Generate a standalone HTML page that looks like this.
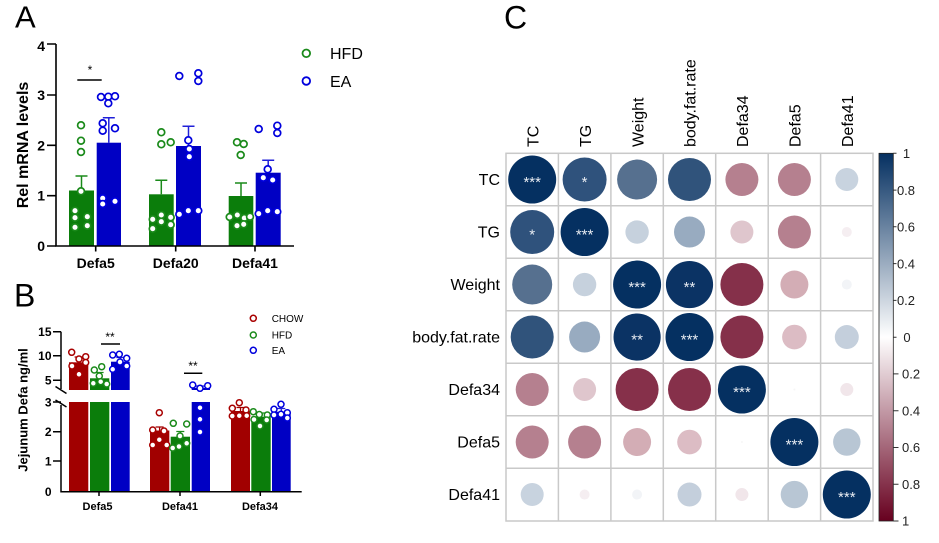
<!DOCTYPE html>
<html><head><meta charset="utf-8"><style>
html,body{margin:0;padding:0;background:#fff;}
svg{display:block;font-family:"Liberation Sans",Arial,sans-serif;}
</style></head><body>
<svg width="939" height="543" viewBox="0 0 939 543" xmlns="http://www.w3.org/2000/svg">
<defs>
<linearGradient id="cb" x1="0" y1="0" x2="0" y2="1">
<stop offset="0" stop-color="#053061"/><stop offset="0.5" stop-color="#ffffff"/><stop offset="1" stop-color="#67001f"/>
</linearGradient>
</defs>
<rect width="939" height="543" fill="#fff"/>

<!-- Panel letters -->
<text x="15" y="27.3" font-size="31">A</text>
<text x="14" y="306.7" font-size="32">B</text>
<text x="504" y="28.3" font-size="32">C</text>

<!-- ================= Panel A ================= -->
<g fill="#0b7d0b">
<rect x="69" y="190.5" width="25" height="55.5"/>
<rect x="149" y="194.3" width="24.7" height="51.7"/>
<rect x="228.7" y="196" width="24.6" height="50"/>
</g>
<g fill="#0000c4">
<rect x="96.7" y="142.7" width="24.3" height="103.3"/>
<rect x="176" y="146" width="25" height="100"/>
<rect x="255.7" y="172.7" width="25" height="73.3"/>
</g>
<g stroke="#1a8a1a" stroke-width="1.5" fill="none">
<path d="M81.5 190.5V176M75.5 176H87.5"/>
<path d="M161.3 194.3V180.3M155.3 180.3H167.3"/>
<path d="M241 196V183M235 183H247"/>
</g>
<g stroke="#2020d8" stroke-width="1.5" fill="none">
<path d="M108.8 142.7V117.7M102.8 117.7H114.8"/>
<path d="M188.5 146V126.3M182.5 126.3H194.5"/>
<path d="M268.2 172.7V160.3M262.2 160.3H274.2"/>
</g>
<!-- A axes -->
<g stroke="#000" stroke-width="1.6" fill="none">
<path d="M56 44V246H294"/>
<path d="M47 44H56M47 95H56M47 145.3H56M47 195.7H56M47 246H56"/>
<path d="M95.7 246V251.5M175.7 246V251.5M255 246V251.5"/>
<path d="M77.3 80H101.7"/>
</g>
<text x="90" y="74" font-size="12" text-anchor="middle">*</text>
<g font-size="14" font-weight="bold" text-anchor="end">
<text x="45" y="51">4</text><text x="45" y="100">3</text><text x="45" y="150.3">2</text><text x="45" y="200.7">1</text><text x="45" y="251">0</text>
</g>
<g font-size="14" font-weight="bold" text-anchor="middle">
<text x="95.7" y="268">Defa5</text><text x="175.7" y="268">Defa20</text><text x="255" y="268">Defa41</text>
</g>
<text transform="translate(28,145) rotate(-90)" font-size="16" font-weight="bold" text-anchor="middle">Rel mRNA levels</text>
<!-- A points -->
<g fill="#fff" stroke="#1a8a1a" stroke-width="1.7">
<circle cx="81" cy="125.3" r="3.4"/><circle cx="81" cy="140.7" r="3.4"/><circle cx="81" cy="152" r="3.4"/><circle cx="81" cy="191.3" r="3.4"/><circle cx="75" cy="210.7" r="3.4"/><circle cx="75" cy="217.7" r="3.4"/><circle cx="87.3" cy="216.7" r="3.4"/><circle cx="75" cy="227.3" r="3.4"/><circle cx="87.3" cy="225.7" r="3.4"/>
<circle cx="161.3" cy="132.3" r="3.4"/><circle cx="161.3" cy="144.3" r="3.4"/><circle cx="170.7" cy="142.3" r="3.4"/><circle cx="152.7" cy="219.3" r="3.4"/><circle cx="161.3" cy="215" r="3.4"/><circle cx="170.7" cy="217.3" r="3.4"/><circle cx="161.3" cy="221.7" r="3.4"/><circle cx="152.7" cy="228.7" r="3.4"/><circle cx="170.7" cy="224.7" r="3.4"/>
<circle cx="237" cy="142.3" r="3.4"/><circle cx="243.7" cy="144" r="3.4"/><circle cx="240.7" cy="155" r="3.4"/><circle cx="229.7" cy="217" r="3.4"/><circle cx="237.3" cy="215" r="3.4"/><circle cx="244.3" cy="218" r="3.4"/><circle cx="250" cy="216.7" r="3.4"/><circle cx="237" cy="225.7" r="3.4"/><circle cx="243.7" cy="224.3" r="3.4"/>
</g>
<g fill="#fff" stroke="#0000dd" stroke-width="1.7">
<circle cx="101" cy="97" r="3.4"/><circle cx="108.3" cy="96.7" r="3.4"/><circle cx="115" cy="96.3" r="3.4"/><circle cx="108.3" cy="103.3" r="3.4"/><circle cx="102.7" cy="123.3" r="3.4"/><circle cx="102.7" cy="130.7" r="3.4"/><circle cx="115" cy="128.3" r="3.4"/><circle cx="102.7" cy="198.3" r="3.4"/><circle cx="102.7" cy="204" r="3.4"/><circle cx="115" cy="201.3" r="3.4"/>
<circle cx="179.3" cy="76" r="3.4"/><circle cx="198.3" cy="73.3" r="3.4"/><circle cx="198.3" cy="81" r="3.4"/><circle cx="188.3" cy="140.3" r="3.4"/><circle cx="189.3" cy="149" r="3.4"/><circle cx="189.3" cy="156.7" r="3.4"/><circle cx="179.3" cy="214.3" r="3.4"/><circle cx="188.3" cy="210.7" r="3.4"/><circle cx="198.3" cy="210.7" r="3.4"/>
<circle cx="258.7" cy="129" r="3.4"/><circle cx="277.3" cy="125.7" r="3.4"/><circle cx="277.3" cy="133" r="3.4"/><circle cx="267.7" cy="169.3" r="3.4"/><circle cx="263.3" cy="177.7" r="3.4"/><circle cx="272.7" cy="180" r="3.4"/><circle cx="258.7" cy="213.7" r="3.4"/><circle cx="267.7" cy="210.7" r="3.4"/><circle cx="277.3" cy="211.7" r="3.4"/>
</g>
<!-- A legend -->
<circle cx="306.3" cy="53.3" r="3.8" fill="#fff" stroke="#1a8a1a" stroke-width="1.8"/>
<circle cx="306.3" cy="81" r="3.8" fill="#fff" stroke="#0000dd" stroke-width="1.8"/>
<text x="330" y="59" font-size="16">HFD</text>
<text x="330" y="87" font-size="16">EA</text>

<!-- ================= Panel B ================= -->
<g fill="#a10000">
<rect x="69" y="402" width="19.3" height="89.7"/><rect x="69" y="362.3" width="19.3" height="27.7"/>
<rect x="150" y="430.5" width="19.3" height="61.2"/>
<rect x="231" y="411" width="19" height="80.7"/>
</g>
<g fill="#0b7d0b">
<rect x="90" y="402" width="19.3" height="89.7"/><rect x="90" y="378.3" width="19.3" height="11.7"/>
<rect x="170.7" y="436.7" width="19.3" height="55"/>
<rect x="251.3" y="416.7" width="19.4" height="75"/>
</g>
<g fill="#0000c4">
<rect x="111" y="402" width="18.7" height="89.7"/><rect x="111" y="361.7" width="18.7" height="28.3"/>
<rect x="191.7" y="402" width="18.3" height="89.7"/><rect x="191.7" y="388" width="18.3" height="2"/>
<rect x="272" y="411.7" width="18.7" height="80"/>
</g>
<g stroke-width="1.3" fill="none">
<path stroke="#a10000" d="M78.6 362.3V357M74.6 357H82.6M159.6 430.5V427M155.6 427H163.6M240.5 411V407.5M236.5 407.5H244.5"/>
<path stroke="#1a8a1a" d="M99.6 378.3V372.5M95.6 372.5H103.6M180.3 436.7V431.5M176.3 431.5H184.3M261 416.7V413M257 413H265"/>
<path stroke="#2020d8" d="M120.3 361.7V357.5M116.3 357.5H124.3M200.8 388V386M194.8 386H206.8M281.3 411.7V408.5M277.3 408.5H285.3"/>
</g>
<!-- B axes -->
<g stroke="#000" stroke-width="1.5" fill="none">
<path d="M61 331.7V389"/>
<path d="M61 405V491.7H301.7"/>
<path d="M55.5 386.5L66.5 393.5M55.5 400L66.5 407"/>
<path d="M53 331.7H61M53 355.7H61M53 380.3H61M53 402H61M53 431.7H61M53 461H61"/>
<path d="M99 491.7V496M180 491.7V496M260.3 491.7V496"/>
<path d="M101 344H120M184 373.3H202.3"/>
</g>
<g font-size="12" text-anchor="middle">
<text x="110" y="341">**</text>
<text x="193" y="370">**</text>
</g>
<g font-size="12" font-weight="bold" text-anchor="end">
<text x="51.5" y="336">15</text><text x="51.5" y="360">10</text><text x="51.5" y="384.6">5</text><text x="51.5" y="406.3">3</text><text x="51.5" y="436">2</text><text x="51.5" y="465.3">1</text><text x="51.5" y="496">0</text>
</g>
<g font-size="11" font-weight="bold" text-anchor="middle">
<text x="97.5" y="510">Defa5</text><text x="180" y="510">Defa41</text><text x="260" y="510">Defa34</text>
</g>
<text transform="translate(27.5,410) rotate(-90)" font-size="13" font-weight="bold" text-anchor="middle">Jejunum Defa ng/ml</text>
<!-- B points -->
<g fill="#fff" stroke="#a80000" stroke-width="1.5">
<circle cx="71.7" cy="352.3" r="3"/><circle cx="79" cy="359" r="3"/><circle cx="85.7" cy="356.7" r="3"/><circle cx="85.7" cy="362.5" r="3"/><circle cx="79" cy="374.3" r="3"/><circle cx="72" cy="366" r="3"/>
<circle cx="159.3" cy="412.7" r="3"/><circle cx="152.7" cy="430" r="3"/><circle cx="164" cy="431" r="3"/><circle cx="159.3" cy="439.7" r="3"/><circle cx="152.7" cy="445" r="3"/><circle cx="166.7" cy="445" r="3"/>
<circle cx="232.3" cy="408.3" r="3"/><circle cx="239.3" cy="402.7" r="3"/><circle cx="246" cy="410" r="3"/><circle cx="232.3" cy="416" r="3"/><circle cx="239.3" cy="415.7" r="3"/><circle cx="246.7" cy="415.7" r="3"/>
</g>
<g fill="#fff" stroke="#1a8a1a" stroke-width="1.5">
<circle cx="94.3" cy="370" r="3"/><circle cx="101.7" cy="366.7" r="3"/><circle cx="99.3" cy="376" r="3"/><circle cx="93.3" cy="383.3" r="3"/><circle cx="100.7" cy="381.7" r="3"/><circle cx="106.7" cy="384" r="3"/>
<circle cx="173.3" cy="423.3" r="3"/><circle cx="186.7" cy="424" r="3"/><circle cx="180" cy="436" r="3"/><circle cx="172.7" cy="448" r="3"/><circle cx="186.7" cy="443.3" r="3"/><circle cx="179" cy="446.5" r="3"/>
<circle cx="253.3" cy="411.7" r="3"/><circle cx="259.3" cy="414.5" r="3"/><circle cx="267.3" cy="415" r="3"/><circle cx="254" cy="419.5" r="3"/><circle cx="260" cy="426" r="3"/><circle cx="266.7" cy="420" r="3"/>
</g>
<g fill="#fff" stroke="#0000dd" stroke-width="1.5">
<circle cx="112.7" cy="355" r="3"/><circle cx="119.3" cy="354.3" r="3"/><circle cx="126.7" cy="358.3" r="3"/><circle cx="112.7" cy="369.3" r="3"/><circle cx="120" cy="362" r="3"/><circle cx="126.7" cy="366" r="3"/>
<circle cx="192.7" cy="385" r="3"/><circle cx="200" cy="388.3" r="3"/><circle cx="207.7" cy="385.7" r="3"/><circle cx="200" cy="407.7" r="3"/><circle cx="200" cy="419.3" r="3"/><circle cx="200" cy="432" r="3"/>
<circle cx="274" cy="409.3" r="3"/><circle cx="281" cy="404.3" r="3"/><circle cx="287.3" cy="412.7" r="3"/><circle cx="274" cy="415" r="3"/><circle cx="281" cy="414.3" r="3"/><circle cx="287.3" cy="418" r="3"/>
</g>
<!-- B legend -->
<circle cx="253.3" cy="318.3" r="3" fill="#fff" stroke="#a80000" stroke-width="1.5"/>
<circle cx="253.3" cy="335" r="3" fill="#fff" stroke="#1a8a1a" stroke-width="1.5"/>
<circle cx="253.3" cy="350.3" r="3" fill="#fff" stroke="#0000dd" stroke-width="1.5"/>
<g font-size="10">
<text x="271.7" y="321.8">CHOW</text><text x="271.7" y="338.5">HFD</text><text x="271.7" y="353.8">EA</text>
</g>

<!-- ================= Panel C ================= -->
<g stroke="#c9c9c9" stroke-width="1.5" fill="none">
<rect x="506" y="153.3" width="367" height="367.7"/>
<path d="M558.4 153.3V521M610.9 153.3V521M663.3 153.3V521M715.7 153.3V521M768.2 153.3V521M820.6 153.3V521"/>
<path d="M506 205.8H873M506 258.3H873M506 310.8H873M506 363.3H873M506 415.8H873M506 468.3H873"/>
</g>
<!-- circles row 0 TC -->
<circle cx="532.2" cy="179.55" r="24" fill="#053061"/>
<circle cx="584.6" cy="179.55" r="22" fill="#2f527c"/>
<circle cx="637.1" cy="179.55" r="20" fill="#56708f"/>
<circle cx="689.5" cy="179.55" r="21.5" fill="#30537b"/>
<circle cx="741.9" cy="179.55" r="16.5" fill="#b5808f"/>
<circle cx="794.4" cy="179.55" r="16.5" fill="#b5808f"/>
<circle cx="846.8" cy="179.55" r="11.5" fill="#c8d3df"/>
<!-- row 1 TG -->
<circle cx="532.2" cy="232.05" r="22" fill="#2f527c"/>
<circle cx="584.6" cy="232.05" r="24" fill="#053061"/>
<circle cx="637.1" cy="232.05" r="11.7" fill="#c6d1dd"/>
<circle cx="689.5" cy="232.05" r="15.5" fill="#98abc0"/>
<circle cx="741.9" cy="232.05" r="11.5" fill="#dfc6cd"/>
<circle cx="794.4" cy="232.05" r="16.5" fill="#b5808f"/>
<circle cx="846.8" cy="232.05" r="5" fill="#f5eef1"/>
<!-- row 2 Weight -->
<circle cx="532.2" cy="284.55" r="20" fill="#56708f"/>
<circle cx="584.6" cy="284.55" r="11.7" fill="#c6d1dd"/>
<circle cx="637.1" cy="284.55" r="24" fill="#053061"/>
<circle cx="689.5" cy="284.55" r="23.6" fill="#0b3364"/>
<circle cx="741.9" cy="284.55" r="21.5" fill="#85304a"/>
<circle cx="794.4" cy="284.55" r="14" fill="#d3adb5"/>
<circle cx="846.8" cy="284.55" r="5" fill="#f2f4f7"/>
<!-- row 3 body.fat.rate -->
<circle cx="532.2" cy="337.05" r="21.5" fill="#30537b"/>
<circle cx="584.6" cy="337.05" r="15.5" fill="#98abc0"/>
<circle cx="637.1" cy="337.05" r="23.6" fill="#0b3364"/>
<circle cx="689.5" cy="337.05" r="24" fill="#053061"/>
<circle cx="741.9" cy="337.05" r="21.5" fill="#85304a"/>
<circle cx="794.4" cy="337.05" r="12.3" fill="#dcbcc4"/>
<circle cx="846.8" cy="337.05" r="12" fill="#c4cfdc"/>
<!-- row 4 Defa34 -->
<circle cx="532.2" cy="389.55" r="16.5" fill="#b5808f"/>
<circle cx="584.6" cy="389.55" r="11.5" fill="#dfc6cd"/>
<circle cx="637.1" cy="389.55" r="21.5" fill="#86304a"/>
<circle cx="689.5" cy="389.55" r="21.5" fill="#86304a"/>
<circle cx="741.9" cy="389.55" r="24" fill="#053061"/>
<circle cx="794.4" cy="389.55" r="1" fill="#f6f6f6"/>
<circle cx="846.8" cy="389.55" r="6.5" fill="#f1e6ea"/>
<!-- row 5 Defa5 -->
<circle cx="532.2" cy="442.05" r="16.5" fill="#b5808f"/>
<circle cx="584.6" cy="442.05" r="16.5" fill="#b5808f"/>
<circle cx="637.1" cy="442.05" r="14" fill="#d3adb5"/>
<circle cx="689.5" cy="442.05" r="12.3" fill="#dcbcc4"/>
<circle cx="741.9" cy="442.05" r="1" fill="#f6f6f6"/>
<circle cx="794.4" cy="442.05" r="24" fill="#053061"/>
<circle cx="846.8" cy="442.05" r="13.7" fill="#b8c6d4"/>
<!-- row 6 Defa41 -->
<circle cx="532.2" cy="494.55" r="11.5" fill="#c8d3df"/>
<circle cx="584.6" cy="494.55" r="5" fill="#f5eef1"/>
<circle cx="637.1" cy="494.55" r="5" fill="#f2f4f7"/>
<circle cx="689.5" cy="494.55" r="12" fill="#c4cfdc"/>
<circle cx="741.9" cy="494.55" r="6.5" fill="#f1e6ea"/>
<circle cx="794.4" cy="494.55" r="13.7" fill="#b8c6d4"/>
<circle cx="846.8" cy="494.55" r="24" fill="#053061"/>
<!-- stars -->
<g fill="#e8ecf2" font-size="15" text-anchor="middle">
<text x="532.2" y="187">***</text>
<text x="584.6" y="187">*</text>
<text x="532.2" y="239.5">*</text>
<text x="584.6" y="239.5">***</text>
<text x="637.1" y="292">***</text>
<text x="689.5" y="292">**</text>
<text x="637.1" y="344.5">**</text>
<text x="689.5" y="344.5">***</text>
<text x="741.9" y="397">***</text>
<text x="794.4" y="449.5">***</text>
<text x="846.8" y="502">***</text>
</g>
<!-- row labels -->
<g font-size="16" text-anchor="end">
<text x="500" y="185">TC</text>
<text x="500" y="237.5">TG</text>
<text x="500" y="290">Weight</text>
<text x="500" y="342.5">body.fat.rate</text>
<text x="500" y="395">Defa34</text>
<text x="500" y="447.5">Defa5</text>
<text x="500" y="500">Defa41</text>
</g>
<!-- column labels -->
<g font-size="16">
<text transform="translate(538.4,147) rotate(-90)">TC</text>
<text transform="translate(590.8,147) rotate(-90)">TG</text>
<text transform="translate(643.3,147) rotate(-90)">Weight</text>
<text transform="translate(695.7,147) rotate(-90)">body.fat.rate</text>
<text transform="translate(748.1,147) rotate(-90)">Defa34</text>
<text transform="translate(800.6,147) rotate(-90)">Defa5</text>
<text transform="translate(853,147) rotate(-90)">Defa41</text>
</g>
<!-- colorbar -->
<rect x="879" y="153.3" width="14.3" height="367.7" fill="url(#cb)" stroke="#222" stroke-width="0.8"/>
<g stroke="#333" stroke-width="1">
<path d="M893.3 153.3H896.5M893.3 190.1H896.5M893.3 226.8H896.5M893.3 263.6H896.5M893.3 300.4H896.5M893.3 337.2H896.5"/>
<path d="M893.3 373.9H898.5M893.3 410.7H898.5M893.3 447.5H898.5M893.3 484.2H898.5M893.3 521H898.5"/>
</g>
<g font-size="13" fill="#222">
<g text-anchor="middle">
<text x="906.5" y="158">1</text>
<text x="906" y="194.8">0.8</text>
<text x="906" y="231.5">0.6</text>
<text x="906" y="268.3">0.4</text>
<text x="906" y="305.1">0.2</text>
<text x="907" y="341.9">0</text>
</g>
<text x="902" y="378.6">0.2</text>
<text x="902" y="415.4">0.4</text>
<text x="902" y="452.2">0.6</text>
<text x="902" y="488.9">0.8</text>
<text x="902" y="525.7">1</text>
</g>
</svg>
</body></html>
